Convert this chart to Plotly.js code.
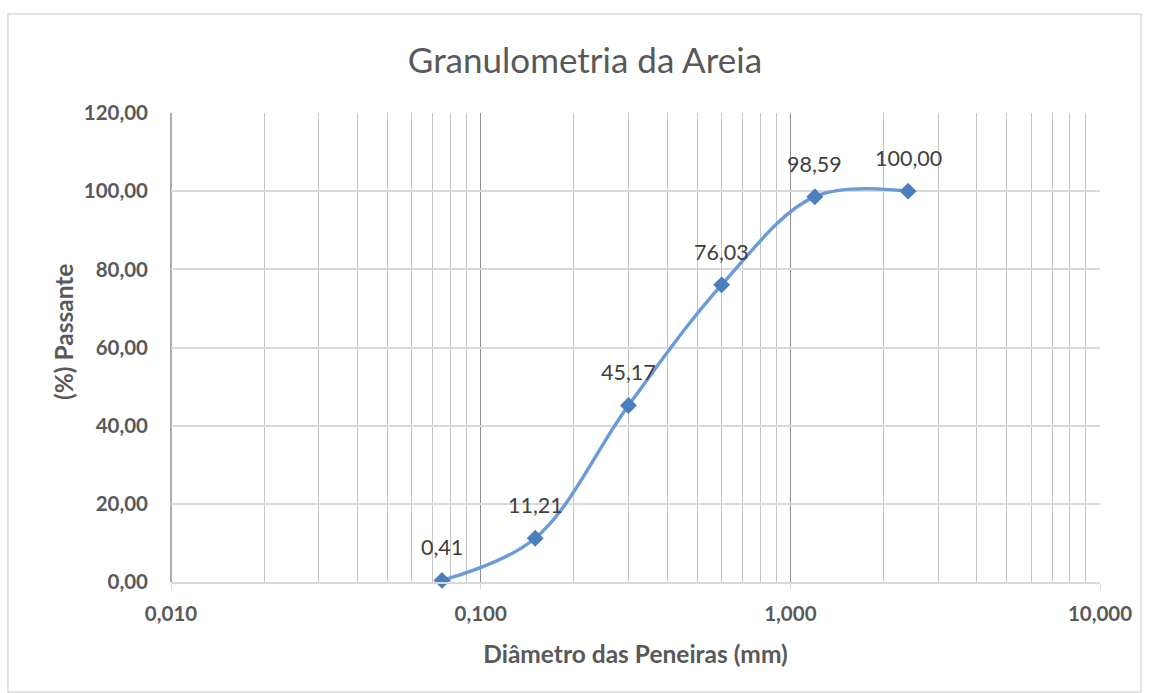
<!DOCTYPE html>
<html>
<head>
<meta charset="utf-8">
<script src="https://cdn.plot.ly/plotly-3.0.1.min.js"></script>
<style>html,body{margin:0;padding:0;background:#fff;}#chart{width:1150px;height:693px;}</style>
</head>
<body>
<div id="chart"></div>
<script>
const diametros = [0.075, 0.15, 0.3, 0.6, 1.2, 2.4];
const passante = [0.41, 11.21, 45.17, 76.03, 98.59, 100.00];
const rotulos = ['0,41', '11,21', '45,17', '76,03', '98,59', '100,00'];
const xMajorTicks = [0.01, 0.1, 1, 10];
const xMinorTicks = [0.02,0.03,0.04,0.05,0.06,0.07,0.08,0.09,0.2,0.3,0.4,0.5,0.6,0.7,0.8,0.9,2,3,4,5,6,7,8,9];
const yTicks = [0, 20, 40, 60, 80, 100, 120];

const font = "Lato, 'Open Sans', sans-serif";

const trace = {
  x: diametros, y: passante, type: 'scatter', mode: 'lines+markers',
  line: {shape: 'spline', smoothing: 1, color: '#6b9bd6', width: 3.4},
  marker: {symbol: 'diamond', size: 13, color: '#4a7ebf'},
  cliponaxis: false, hoverinfo: 'x+y'
};

const annotations = diametros.map((d, i) => ({
  x: Math.log10(d), y: passante[i], xref: 'x', yref: 'y',
  text: rotulos[i], showarrow: false, yshift: 33,
  font: {family: font, size: 21.5, color: '#404040'}
}));
annotations.push({
  text: '(%) Passante', xref: 'paper', yref: 'paper', x: -0.1163, y: 0.533,
  xanchor: 'center', yanchor: 'middle', textangle: -90, showarrow: false,
  font: {family: font, size: 24.5, color: '#595959', weight: 'bold'}
});

const layout = {
  width: 1150, height: 693,
  margin: {l: 171, r: 50, t: 113, b: 111},
  separators: ',.',
  paper_bgcolor: '#fff', plot_bgcolor: '#fff',
  showlegend: false,
  title: {text: 'Granulometria da Areia', x: 0.4456, xanchor: 'center', xref: 'paper', y: 0.913, yanchor: 'middle',
          font: {family: font, size: 35, color: '#595959'}},
  xaxis: {
    type: 'log', range: [-2, 1],
    tickvals: xMajorTicks, tickformat: '.3f',
    tickfont: {family: font, size: 20.5, color: '#595959', weight: 'bold'},
    showgrid: true, gridcolor: '#8f8f8f', gridwidth: 1,
    minor: {tickvals: xMinorTicks, showgrid: true, gridcolor: '#c4c4c4', gridwidth: 1, ticks: ''},
    ticks: 'outside', ticklen: 6, tickcolor: '#d9d9d9', ticklabelstandoff: 7,
    showline: true, linecolor: '#d9d9d9', linewidth: 1.5, zeroline: false,
    title: {text: 'Diâmetro das Peneiras (mm)', standoff: 22,
            font: {family: font, size: 24.5, color: '#595959', weight: 'bold'}},
    fixedrange: true
  },
  yaxis: {
    range: [0, 120], tickvals: yTicks, tickformat: '.2f',
    tickfont: {family: font, size: 20.5, color: '#595959', weight: 'bold'},
    showgrid: true, gridcolor: '#d9d9d9', gridwidth: 1.5,
    ticks: '', ticklabelstandoff: 22, zeroline: false, showline: false,
    fixedrange: true
  },
  annotations: annotations,
  shapes: [
    {type: 'line', xref: 'paper', yref: 'paper', x0: 0, x1: 0, y0: 0, y1: 1,
     line: {color: '#8f8f8f', width: 1.5}, layer: 'below'},
    {type: 'rect', xref: 'paper', yref: 'paper', x0: -0.1755, x1: 1.0441, y0: -0.2345, y1: 1.211,
     line: {color: '#d9d9d9', width: 1.5}, fillcolor: 'rgba(0,0,0,0)'}
  ]
};

Plotly.newPlot('chart', [trace], layout, {displayModeBar: false, responsive: false});
</script>
</body>
</html>
